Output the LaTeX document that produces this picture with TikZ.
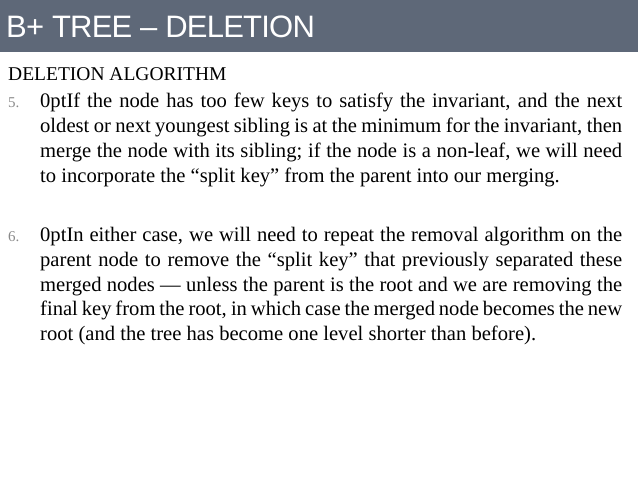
\documentclass[tikz,border=0pt]{standalone}
\usepackage{fontspec}
\setmainfont{Liberation Serif}
\newfontfamily\headfont{Liberation Sans}
\definecolor{band}{HTML}{5E6878}
\definecolor{numgray}{HTML}{8A8A8A}
\tikzset{
  body/.style={anchor=north west, inner sep=0pt, text width=582pt, align=justify,
    font=\fontsize{20.6}{24.8}\selectfont\hyphenpenalty=10000\exhyphenpenalty=10000\emergencystretch=20pt},
  num/.style={anchor=north west, inner sep=0pt, text=numgray, font=\fontsize{15}{18}\selectfont}
}
\begin{document}
\begin{tikzpicture}[x=1pt,y=1pt]
\useasboundingbox (0,0) rectangle (638,-478);
\fill[band] (0,0) rectangle (638,-52);
\node[anchor=west, inner sep=0pt, text=white, font=\headfont\fontsize{31}{34}\selectfont\addfontfeature{LetterSpace=-2.5}] (title) at (6,-27) {B+ TREE \textendash{} DELETION};
\node[anchor=base west, inner sep=0pt, font=\fontsize{19.5}{22}\selectfont] (head) at (8,-81) {DELETION ALGORITHM};
\node[num] (n5) at (8,-97) {5.};
\node[body] (t5) at (40,-93) {If the node has too few keys to satisfy the invariant, and the next oldest or next youngest sibling is at the minimum for the invariant, then merge the node with its sibling; if the node is a non-leaf, we will need to incorporate the “split key” from the parent into our merging.};
\node[num] (n6) at (8,-231) {6.};
\node[body] (t6) at (40,-227) {In either case, we will need to repeat the removal algorithm on the parent node to remove the “split key” that previously separated these merged nodes — unless the parent is the root and we are removing the final key from the root, in which case the merged node becomes the new root (and the tree has become one level shorter than before).};
\end{tikzpicture}
\end{document}
